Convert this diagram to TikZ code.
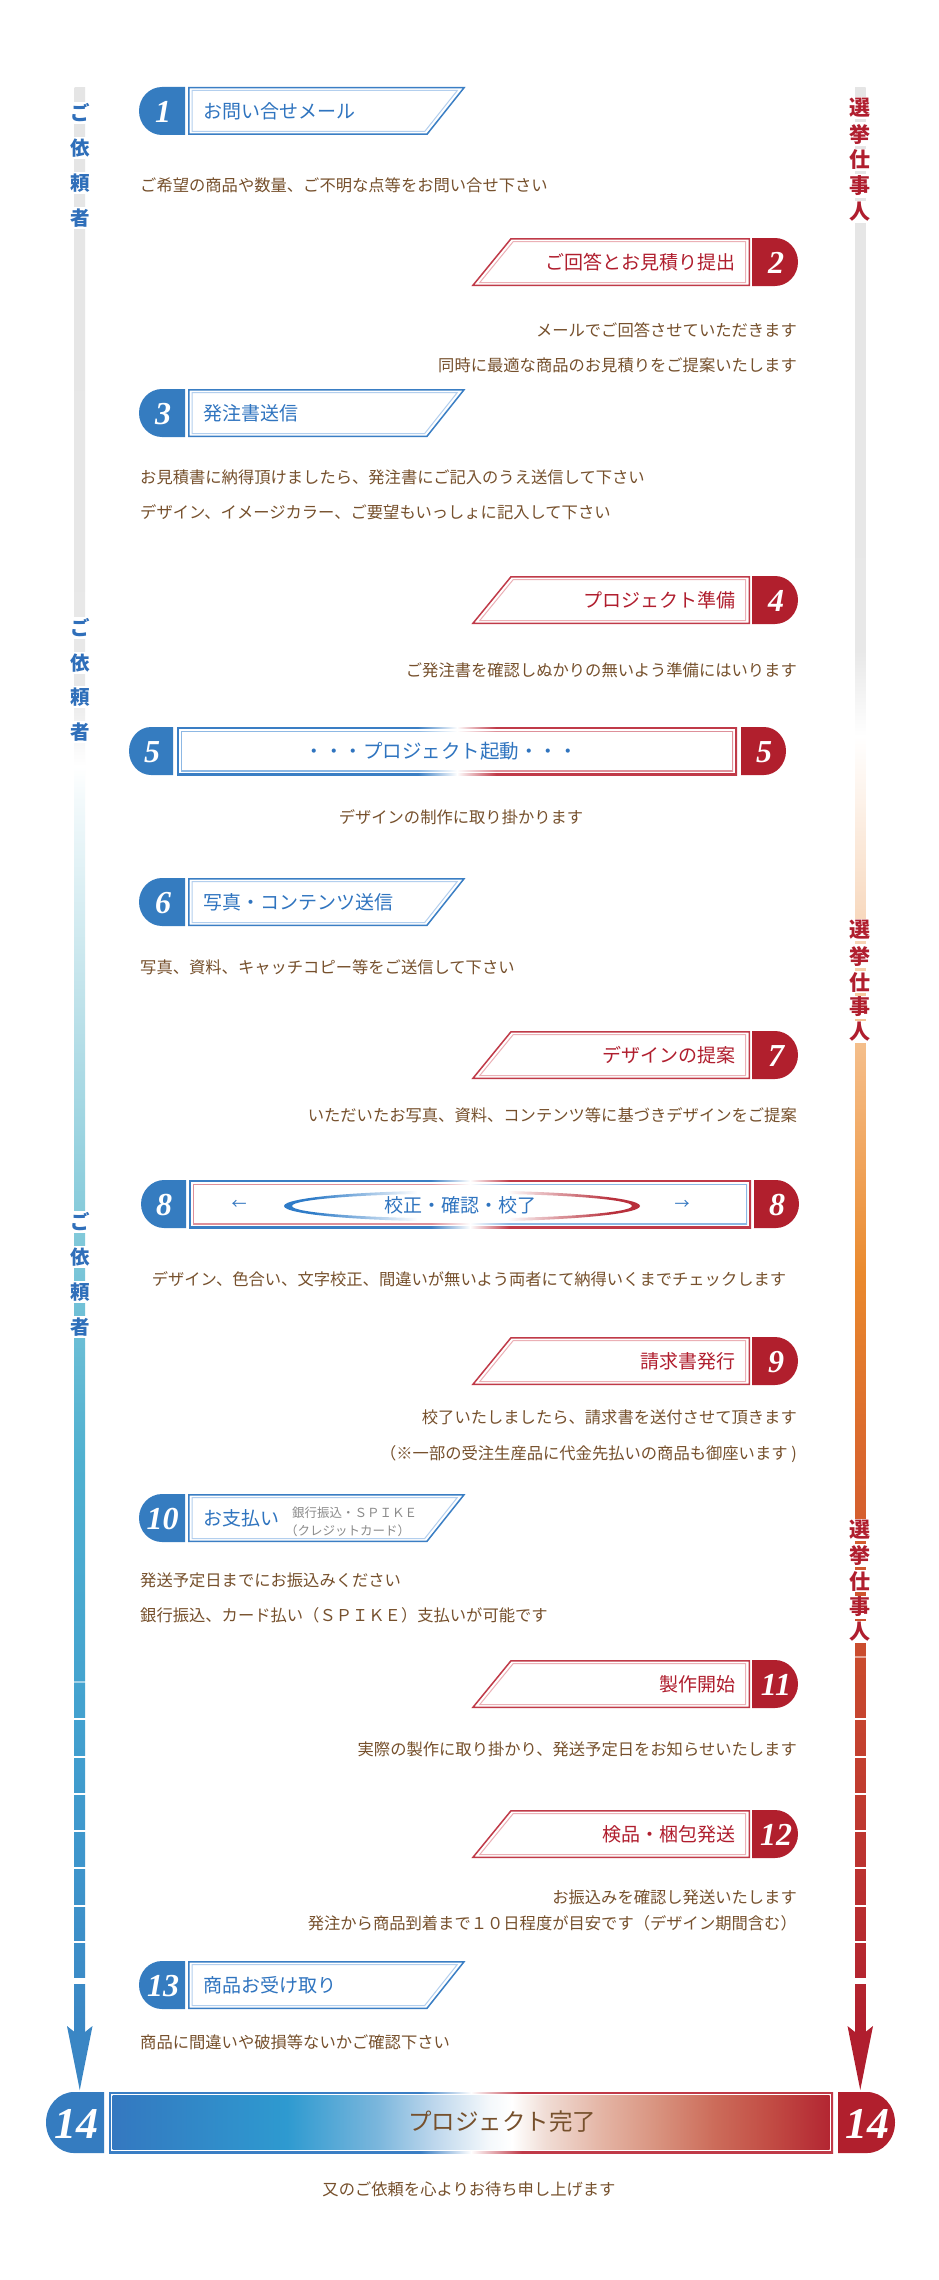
\documentclass[tikz,border=0pt]{standalone}
\usepackage{fontspec}
\newfontfamily\jp{Noto Sans CJK JP}
\newfontfamily\numf{Liberation Serif}
\definecolor{bbadge}{HTML}{357CC0}
\definecolor{rbadge}{HTML}{B11F2D}
\definecolor{bline}{HTML}{3A7EC4}
\definecolor{bline3}{HTML}{B3CFEE}
\definecolor{rline}{HTML}{C03A48}
\definecolor{rline3}{HTML}{EBB0B6}
\definecolor{bline2}{HTML}{8DB8E4}
\definecolor{rline2}{HTML}{DE909A}
\definecolor{btext}{HTML}{2F74BF}
\definecolor{rtext}{HTML}{B01E2E}
\definecolor{desccol}{HTML}{76502C}
\definecolor{vlblue}{HTML}{2F6FBA}
\definecolor{graytxt}{HTML}{8A8A8A}
\definecolor{swblue}{HTML}{2F7CC8}
\definecolor{swred}{HTML}{B8303C}
% left bar colours
\definecolor{lbA}{HTML}{3A86C4}\definecolor{lbB}{HTML}{3E96CC}\definecolor{lbC}{HTML}{43A2CF}
\definecolor{lbD}{HTML}{4FB0D0}\definecolor{lbE}{HTML}{84CADA}\definecolor{lbF}{HTML}{BFE2EA}
\definecolor{lbG}{HTML}{F2F9FB}\definecolor{gbar}{HTML}{E5E5E5}\definecolor{gbar2}{HTML}{E8E8E8}
% right bar colours
\definecolor{rbA}{HTML}{B01E2E}\definecolor{rbB}{HTML}{BC3430}\definecolor{rbC}{HTML}{CA4C2E}
\definecolor{rbD}{HTML}{DA682E}\definecolor{rbE}{HTML}{EA8A2E}\definecolor{rbF}{HTML}{F3B274}
\definecolor{rbG}{HTML}{F8DCC4}\definecolor{rbH}{HTML}{FDF3EB}
% final bar colours
\definecolor{fA}{HTML}{3478C0}\definecolor{fB}{HTML}{2E9AD0}\definecolor{fC}{HTML}{7AB6DC}
\definecolor{fD}{HTML}{BCD6EC}\definecolor{fE}{HTML}{F4F8FB}\definecolor{fF}{HTML}{F0DCD4}
\definecolor{fG}{HTML}{E4B4A4}\definecolor{fH}{HTML}{D8927E}\definecolor{fI}{HTML}{CC6C5A}
\definecolor{fJ}{HTML}{C24C44}\definecolor{fK}{HTML}{B32632}
\pgfdeclareverticalshading{lbar}{100bp}{color(0bp)=(lbA); color(25bp)=(lbA); color(29.63bp)=(lbB); color(33.5bp)=(lbC); color(39.68bp)=(lbD); color(45.85bp)=(lbE); color(51.52bp)=(lbF); color(56.67bp)=(lbG); color(57.57bp)=(white); color(59.5bp)=(gbar2); color(75bp)=(gbar); color(100bp)=(gbar)}
\pgfdeclareverticalshading{rbar}{100bp}{color(0bp)=(rbA); color(25bp)=(rbA); color(29.63bp)=(rbB); color(34.78bp)=(rbC); color(39.93bp)=(rbD); color(44.57bp)=(rbE); color(48.94bp)=(rbF); color(54.09bp)=(rbG); color(56.8bp)=(rbH); color(58.34bp)=(white); color(60.53bp)=(gbar2); color(75bp)=(gbar); color(100bp)=(gbar)}
\pgfdeclarehorizontalshading{bwr}{100bp}{color(0bp)=(bline); color(46.5bp)=(bline); color(50bp)=(white); color(53.5bp)=(rline); color(100bp)=(rline)}
\pgfdeclarehorizontalshading{bwrl}{100bp}{color(0bp)=(bline2); color(46.5bp)=(bline2); color(50bp)=(white); color(53.5bp)=(rline2); color(100bp)=(rline2)}
\pgfdeclarehorizontalshading{rwbl}{100bp}{color(0bp)=(rline2); color(46.5bp)=(rline2); color(50bp)=(white); color(53.5bp)=(bline2); color(100bp)=(bline2)}
\pgfdeclarehorizontalshading{swl}{100bp}{color(0bp)=(swblue); color(33bp)=(swblue); color(62bp)=(white); color(100bp)=(white)}
\pgfdeclarehorizontalshading{swr}{100bp}{color(0bp)=(white); color(38bp)=(white); color(67bp)=(swred); color(100bp)=(swred)}
\pgfdeclarehorizontalshading{finalfill}{100bp}{color(0bp)=(fA); color(25bp)=(fA); color(37.15bp)=(fB); color(43.45bp)=(fC); color(47.35bp)=(fD); color(51.25bp)=(fE); color(52.85bp)=(white); color(55.25bp)=(fF); color(59.15bp)=(fG); color(63.05bp)=(fH); color(66.95bp)=(fI); color(70.85bp)=(fJ); color(75bp)=(fK); color(100bp)=(fK)}
\tikzset{
  numtxt/.style={text=white, font=\numf\bfseries\itshape\fontsize{32}{32}\selectfont, inner sep=0},
  bignum/.style={text=white, font=\numf\bfseries\itshape\fontsize{44}{44}\selectfont, inner sep=0},
  ltitle/.style={text=btext, font=\jp\fontsize{19}{20}\selectfont, anchor=west, inner sep=0},
  rtitle/.style={text=rtext, font=\jp\fontsize{19}{20}\selectfont, anchor=east, inner sep=0},
  ctitle/.style={text=btext, font=\jp\fontsize{19}{20}\selectfont, inner sep=0},
  desc/.style={text=desccol, font=\jp\fontsize{16.3}{18}\selectfont, inner sep=0},
  ldesc/.style={desc, anchor=west},
  rdesc/.style={desc, anchor=east},
  vlL/.style={fill=white, text=vlblue, font=\jp\bfseries\fontsize{19.5}{19.5}\selectfont, inner xsep=2.5, inner ysep=2},
  vlR/.style={fill=white, text=rtext, font=\jp\bfseries\fontsize{21}{21}\selectfont, inner xsep=2.5, inner ysep=1.5},
  subinfo/.style={text=graytxt, font=\jp\fontsize{12.5}{14}\selectfont, anchor=west, inner sep=0},
}
\newcommand\Lstep[4]{%
\begin{scope}[shift={(0,#1)}]
 \fill[bbadge] (185,0) -- (162,0) .. controls (149.3,0) and (139,10.75) .. (139,24) .. controls (139,37.25) and (149.3,48) .. (162,48) -- (185,48) -- cycle;
 \draw[bline,line width=1.5] (188.75,0.75) -- (464,0.75) -- (427,47.25) -- (188.75,47.25) -- cycle;
 \draw[bline3,line width=1] (192,3.5) -- (457.3,3.5) -- (424.7,44.5) -- (192,44.5) -- cycle;
 \node[numtxt] (#4n) at (163,25) {#2};
 \node[ltitle] (#4) at (203,24.5) {#3};
\end{scope}}
\newcommand\Rstep[4]{%
\begin{scope}[shift={(0,#1)}]
 \fill[rbadge] (752,0) -- (775,0) .. controls (787.7,0) and (798,10.75) .. (798,24) .. controls (798,37.25) and (787.7,48) .. (775,48) -- (752,48) -- cycle;
 \draw[rline,line width=1.5] (511,0.75) -- (749.25,0.75) -- (749.25,47.25) -- (473,47.25) -- cycle;
 \draw[rline3,line width=1] (513.3,3.5) -- (745.5,3.5) -- (745.5,44.5) -- (479.8,44.5) -- cycle;
 \node[numtxt] (#4n) at (776,25) {#2};
 \node[rtitle] (#4) at (736,24.5) {#3};
\end{scope}}
\begin{document}
\begin{tikzpicture}[x=1pt,y=-1pt]
\useasboundingbox (0,0) rectangle (939,2280);
\fill[white] (0,0) rectangle (939,2280);

% ---------- vertical bars ----------
\shade[shading=lbar] (74.5,88) rectangle (85,2034);
\shade[shading=rbar] (855,88) rectangle (865.5,2034);
\fill[lbA] (74.5,2032) -- (67,2026) -- (79.75,2090) -- (92.5,2026) -- (85,2032) -- cycle;
\fill[rbA] (855,2032) -- (847.5,2026) -- (860.25,2090) -- (873,2026) -- (865.5,2032) -- cycle;
\foreach \g in {1719,1757,1794,1831,1868,1906,1942}{
  \fill[white] (73,\g-0.8) rectangle (87,\g+0.8);
  \fill[white] (853,\g-0.8) rectangle (867.5,\g+0.8);
}
\fill[white] (73,1978) rectangle (87,1984);
\fill[white] (853,1978) rectangle (867.5,1984);
\fill[white,opacity=0.5] (73,1681.3) rectangle (87,1682.7);
\fill[white,opacity=0.5] (853,1656.3) rectangle (867.5,1657.7);

% vertical labels
\foreach \c/\y/\k in {ご/113/a,依/148/b,頼/183/c,者/218/d}{\node[vlL] (vla\k) at (79.75,\y) {\c};}
\foreach \c/\y/\k in {ご/628/a,依/663/b,頼/697/c,者/732/d}{\node[vlL] (vlb\k) at (79.75,\y) {\c};}
\foreach \c/\y/\k in {ご/1222/a,依/1257/b,頼/1292/c,者/1327/d}{\node[vlL] (vlc\k) at (79.75,\y) {\c};}
\foreach \c/\y/\k in {選/108/a,挙/134/b,仕/160/c,事/186/d,人/212/e}{\node[vlR] (vra\k) at (860.25,\y) {\c};}
\foreach \c/\y/\k in {選/930/a,挙/956/b,仕/982/c,事/1007/d,人/1032/e}{\node[vlR] (vrb\k) at (860.25,\y) {\c};}
\foreach \c/\y/\k in {選/1530/a,挙/1555/b,仕/1581/c,事/1607/d,人/1632/e}{\node[vlR] (vrc\k) at (860.25,\y) {\c};}

% ---------- steps ----------
\Lstep{87}{1}{お問い合せメール}{s1}
\node[ldesc] (d1) at (140,185) {ご希望の商品や数量、ご不明な点等をお問い合せ下さい};

\Rstep{238}{2}{ご回答とお見積り提出}{s2}
\node[rdesc] (d2a) at (797,330) {メールでご回答させていただきます};
\node[rdesc] (d2b) at (797,365) {同時に最適な商品のお見積りをご提案いたします};

\Lstep{389}{3}{発注書送信}{s3}
\node[ldesc] (d3a) at (140,477) {お見積書に納得頂けましたら、発注書にご記入のうえ送信して下さい};
\node[ldesc] (d3b) at (140,512) {デザイン、イメージカラー、ご要望もいっしょに記入して下さい};

\Rstep{576}{4}{プロジェクト準備}{s4}
\node[rdesc] (d4) at (797,670) {ご発注書を確認しぬかりの無いよう準備にはいります};

% step 5
\fill[bbadge] (173,727) -- (151,727) .. controls (138.85,727) and (129,737.75) .. (129,751) .. controls (129,764.25) and (138.85,775) .. (151,775) -- (173,775) -- cycle;
\fill[rbadge] (741,727) -- (764,727) .. controls (776.15,727) and (786,737.75) .. (786,751) .. controls (786,764.25) and (776.15,775) .. (764,775) -- (741,775) -- cycle;
\shade[shading=bwr] (177,727) rectangle (737,775);
\fill[white] (179,729) rectangle (735,773);
\shade[shading=bwrl] (181,731) rectangle (733,771);
\fill[white] (182.3,732.3) rectangle (731.7,769.7);
\node[numtxt] (s5nl) at (152,752) {5};
\node[numtxt] (s5nr) at (764,752) {5};
\node[ctitle, font=\jp\fontsize{19.5}{20}\selectfont] (s5) at (441,751.5) {・・・プロジェクト起動・・・};
\node[desc] (d5) at (461,817) {デザインの制作に取り掛かります};

\Lstep{878}{6}{写真・コンテンツ送信}{s6}
\node[ldesc] (d6) at (140,967) {写真、資料、キャッチコピー等をご送信して下さい};

\Rstep{1031}{7}{デザインの提案}{s7}
\node[rdesc] (d7) at (797,1115) {いただいたお写真、資料、コンテンツ等に基づきデザインをご提案};

% step 8
\fill[bbadge] (186,1180) -- (164,1180) .. controls (151.85,1180) and (141,1190.75) .. (141,1204) .. controls (141,1217.25) and (151.85,1228) .. (164,1228) -- (186,1228) -- cycle;
\fill[rbadge] (754,1180) -- (776,1180) .. controls (788.15,1180) and (799,1190.75) .. (799,1204) .. controls (799,1217.25) and (788.15,1228) .. (776,1228) -- (754,1228) -- cycle;
\shade[shading=bwr] (189,1180) rectangle (751,1228);
\fill[white] (191,1182) rectangle (749,1226);
\shade[shading=rwbl] (193,1184) rectangle (747,1224);
\fill[white] (194.3,1185.3) rectangle (745.7,1222.7);
\shade[shading=swl]
  (462,1190.5) .. controls (363.7,1190.5) and (284,1197.44) .. (284,1206) .. controls (284,1214.56) and (363.7,1221.5) .. (462,1221.5)
  -- (464,1218.5) .. controls (369,1218.5) and (292,1212.9) .. (292,1206) .. controls (292,1199.1) and (369,1193.5) .. (464,1193.5) -- cycle;
\shade[shading=swr]
  (462,1190.5) .. controls (560.3,1190.5) and (640,1197.44) .. (640,1206) .. controls (640,1214.56) and (560.3,1221.5) .. (462,1221.5)
  -- (460,1218.5) .. controls (555,1218.5) and (632,1212.9) .. (632,1206) .. controls (632,1199.1) and (555,1193.5) .. (460,1193.5) -- cycle;
\node[numtxt] (s8nl) at (164,1205) {8};
\node[numtxt] (s8nr) at (777,1205) {8};
\node[ctitle] (s8) at (460,1205) {校正・確認・校了};
\node[ctitle, font=\jp\fontsize{15}{16}\selectfont] (s8l) at (239,1205) {←};
\node[ctitle, font=\jp\fontsize{15}{16}\selectfont] (s8r) at (682,1205) {→};
\node[desc] (d8) at (469,1279) {デザイン、色合い、文字校正、間違いが無いよう両者にて納得いくまでチェックします};

\Rstep{1337}{9}{請求書発行}{s9}
\node[rdesc] (d9a) at (797,1417) {校了いたしましたら、請求書を送付させて頂きます};
\node[rdesc] (d9b) at (797,1454) {（※一部の受注生産品に代金先払いの商品も御座います )};

\Lstep{1494}{\kern-1pt10}{お支払い}{s10}
\node[subinfo] (s10a) at (292,1513) {銀行振込・ＳＰＩＫＥ};
\node[subinfo] (s10b) at (285,1531) {（クレジットカード）};
\node[ldesc] (d10a) at (140,1580) {発送予定日までにお振込みください};
\node[ldesc] (d10b) at (140,1615) {銀行振込、カード払い（ＳＰＩＫＥ）支払いが可能です};

\Rstep{1660}{11}{製作開始}{s11}
\node[rdesc] (d11) at (797,1749) {実際の製作に取り掛かり、発送予定日をお知らせいたします};

\Rstep{1810}{12}{検品・梱包発送}{s12}
\node[rdesc] (d12a) at (797,1897) {お振込みを確認し発送いたします};
\node[rdesc] (d12b) at (797,1923) {発注から商品到着まで１０日程度が目安です（デザイン期間含む）};

\Lstep{1961}{13}{商品お受け取り}{s13}
\node[ldesc] (d13) at (140,2042) {商品に間違いや破損等ないかご確認下さい};

% step 14
\fill[bbadge] (104,2092) -- (74,2092) .. controls (58.5,2092) and (46,2105.65) .. (46,2122.5) .. controls (46,2139.35) and (58.5,2153) .. (74,2153) -- (104,2153) -- cycle;
\fill[rbadge] (838,2092) -- (867,2092) .. controls (882.5,2092) and (895,2105.65) .. (895,2122.5) .. controls (895,2139.35) and (882.5,2153) .. (867,2153) -- (838,2153) -- cycle;
\shade[shading=bwr] (109,2092) rectangle (833,2153);
\fill[white] (111,2094) rectangle (831,2151);
\shade[shading=finalfill] (112.5,2095.5) rectangle (829.5,2149.5);
\node[bignum] (s14nl) at (76,2124) {14};
\node[bignum] (s14nr) at (867,2124) {14};
\node[text=desccol, font=\jp\fontsize{23.5}{24}\selectfont, inner sep=0] (s14) at (502,2122) {プロジェクト完了};
\node[desc] (d14) at (469,2189) {又のご依頼を心よりお待ち申し上げます};
\end{tikzpicture}
\end{document}
